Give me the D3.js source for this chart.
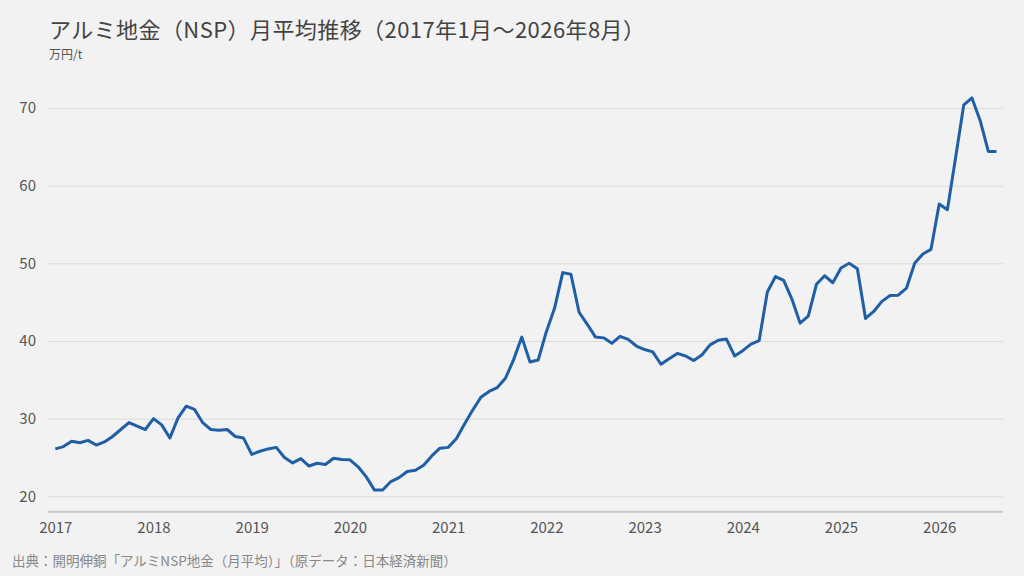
<!DOCTYPE html>
<html>
<head>
<meta charset="utf-8">
<script src="https://cdn.jsdelivr.net/npm/d3@7"></script>
<style>
  body { margin: 0; background: #f2f2f2; }
  text { font-family: "Noto Sans CJK JP", "Noto Sans", sans-serif; }
</style>
</head>
<body>
<script>
// アルミ地金（NSP）月平均, 万円/t, 2017年1月から
var startYear = 2017
var prices = [
  26.1, 26.4, 27.1, 26.9, 27.2, 26.6, 27.0, 27.7, 28.6, 29.5, 29.05, 28.6,   // 2017
  30.0, 29.2, 27.5, 30.1, 31.6, 31.2, 29.5, 28.6, 28.5, 28.6, 27.7, 27.5,    // 2018
  25.4, 25.8, 26.1, 26.3, 25.0, 24.3, 24.85, 23.9, 24.25, 24.1, 24.9, 24.75, // 2019
  24.7, 23.8, 22.5, 20.8, 20.8, 21.9, 22.4, 23.2, 23.35, 24.0, 25.2, 26.2,   // 2020
  26.3, 27.4, 29.3, 31.1, 32.75, 33.5, 34.0, 35.2, 37.6, 40.5, 37.3, 37.55,  // 2021
  41.2, 44.2, 48.8, 48.6, 43.7, 42.15, 40.5, 40.4, 39.7, 40.6, 40.2, 39.35,  // 2022
  38.9, 38.6, 37.0, 37.7, 38.4, 38.07, 37.5, 38.2, 39.5, 40.1, 40.25, 38.07, // 2023
  38.75, 39.6, 40.05, 46.3, 48.3, 47.8, 45.4, 42.3, 43.2, 47.3, 48.4, 47.5,  // 2024
  49.4, 50.0, 49.3, 42.9, 43.8, 45.1, 45.85, 45.9, 46.8, 50.0, 51.2, 51.8,   // 2025
  57.65, 56.9, 63.6, 70.4, 71.3, 68.4, 64.4, 64.4                            // 2026
]
var yearTicks = [2017, 2018, 2019, 2020, 2021, 2022, 2023, 2024, 2025, 2026]
var valueTicks = [20, 30, 40, 50, 60, 70]

var titleText = "アルミ地金（NSP）月平均推移（2017年1月〜2026年8月）"
var unitText = "万円/t"
var sourceText = "出典：開明伸銅「アルミNSP地金（月平均）」（原データ：日本経済新聞）"

var svg = d3.select("body").append("svg")
  .attr("width", 1024)
  .attr("height", 576)
svg.append("rect").attr("width", 1024).attr("height", 576).style("fill", "#f2f2f2")

var x = d3.scaleLinear().domain([0, prices.length - 1]).range([55.3, 996.5])
var y = d3.scaleLinear().domain([20, 70]).range([496.3, 108])

// grid + y labels
var yAxis = svg.append("g")
  .attr("transform", "translate(48,0)")
  .call(d3.axisLeft(y).tickValues(valueTicks).tickSize(-955).tickPadding(12))
yAxis.select(".domain").remove()
yAxis.selectAll("line").style("stroke", "#dcdcd5").style("stroke-width", 1)
yAxis.selectAll("text").style("font-size", "15px").style("fill", "#555")
  .attr("font-family", "Noto Sans CJK JP")

// baseline
svg.append("line")
  .attr("x1", 48).attr("x2", 1003)
  .attr("y1", y(18)).attr("y2", y(18))
  .style("stroke", "#c9c9c2").style("stroke-width", 2)

var xAxis = svg.append("g")
  .attr("transform", "translate(0," + y(18) + ")")
  .call(d3.axisBottom(x)
    .tickValues(yearTicks.map(function(yr) { return (yr - startYear) * 12 }))
    .tickFormat(function(d) { return startYear + d / 12 })
    .tickSize(0).tickPadding(11))
xAxis.select(".domain").remove()
xAxis.selectAll("text").style("font-size", "15px").style("fill", "#555")
  .attr("font-family", "Noto Sans CJK JP")

var line = d3.line()
  .x(function(d, i) { return x(i) })
  .y(function(d) { return y(d) })
svg.append("path")
  .datum(prices)
  .attr("d", line)
  .style("fill", "none")
  .style("stroke", "#1f5fa6")
  .style("stroke-width", 3)
  .style("stroke-linejoin", "round")

var title = svg.append("text").attr("x", 49).attr("y", 38)
  .text(titleText).style("font-size", "22px").style("fill", "#444")
// 元の図はやや字間が広い
var tw = title.node().getComputedTextLength()
var sp = (596 - tw) / (titleText.length - 1)
if (sp > 0 && sp < 2) title.style("letter-spacing", sp + "px")

svg.append("text").attr("x", 49).attr("y", 59)
  .text(unitText).style("font-size", "12px").style("fill", "#555")
svg.append("text").attr("x", 12).attr("y", 566)
  .text(sourceText).style("font-size", "13.5px").style("fill", "#888")
</script>
</body>
</html>
